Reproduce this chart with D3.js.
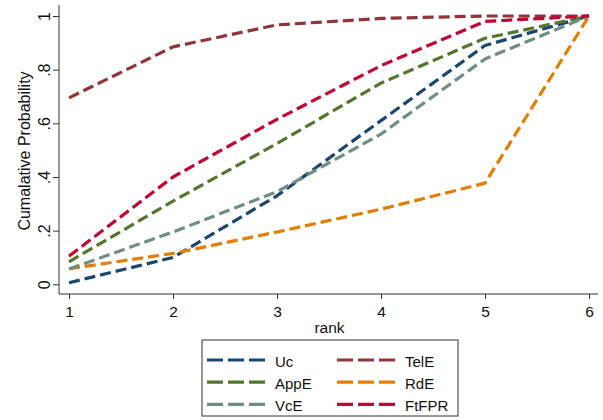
<!DOCTYPE html>
<html>
<head>
<meta charset="utf-8">
<script src="https://cdn.jsdelivr.net/npm/d3@7"></script>
<style>
  body { margin: 0; background: #fff; }
  svg { display: block; font-family: "Liberation Sans", Arial, sans-serif; }
</style>
</head>
<body>
<svg id="chart" width="603" height="420"></svg>
<script>
// data
const ranks = [1, 2, 3, 4, 5, 6];
const yTicks = [0, 0.2, 0.4, 0.6, 0.8, 1];
const yTickLabels = ["0", ".2", ".4", ".6", ".8", "1"];

const Uc    = [0.006, 0.10, 0.33, 0.61, 0.89, 1.0];
const TelE  = [0.695, 0.885, 0.967, 0.991, 1.0, 1.0];
const AppE  = [0.084, 0.31, 0.525, 0.75, 0.917, 1.0];
const RdE   = [0.058, 0.115, 0.195, 0.28, 0.377, 1.0];
const VcE   = [0.057, 0.195, 0.345, 0.56, 0.84, 1.0];
const FtFPR = [0.105, 0.40, 0.615, 0.815, 0.98, 1.0];

const seriesNames = ["Uc", "TelE", "AppE", "RdE", "VcE", "FtFPR"];
const seriesValues = [Uc, TelE, AppE, RdE, VcE, FtFPR];
const seriesColors = ["#1a476f", "#90353b", "#55752f", "#e37e00", "#6e8e84", "#c10534"];

const svg = d3.select("#chart");

// plot region
const plotLeft = 59, plotRight = 598, plotTop = 5, plotBottom = 294;

const x = d3.scaleLinear().domain([1, 6]).range([69, 589]);
const y = d3.scaleLinear().domain([0, 1]).range([284.3, 16]);

// y axis
const yAxis = svg.append("g")
  .attr("transform", `translate(${plotLeft},0)`)
  .call(d3.axisLeft(y).tickValues(yTicks).tickFormat((d, i) => yTickLabels[i]).tickSize(6).tickPadding(0).tickSizeOuter(0));
yAxis.select(".domain").remove();
yAxis.append("line").attr("x1", 0).attr("x2", 0).attr("y1", plotTop).attr("y2", plotBottom).attr("stroke", "#333");
yAxis.selectAll(".tick line").attr("stroke", "#333");
yAxis.selectAll(".tick text")
  .attr("x", null).attr("dy", null)
  .attr("transform", "translate(-9,0) rotate(-90)")
  .attr("text-anchor", "middle")
  .attr("fill", "#111")
  .style("font-size", "16px");

// x axis
const xAxis = svg.append("g")
  .attr("transform", `translate(0,${plotBottom})`)
  .call(d3.axisBottom(x).tickValues(ranks).tickFormat(d3.format("d")).tickSize(5).tickPadding(0).tickSizeOuter(0));
xAxis.select(".domain").remove();
xAxis.append("line").attr("x1", plotLeft).attr("x2", plotRight).attr("y1", 0).attr("y2", 0).attr("stroke", "#333");
xAxis.selectAll(".tick line").attr("stroke", "#333");
xAxis.selectAll(".tick text")
  .attr("y", 23).attr("dy", null)
  .attr("fill", "#111").style("font-size", "15.5px");

// axis titles
svg.append("text")
  .attr("transform", "translate(29.5,151) rotate(-90)")
  .attr("text-anchor", "middle")
  .attr("fill", "#111")
  .style("font-size", "16px")
  .text("Cumalative Probability");

svg.append("text")
  .attr("x", 329.5).attr("y", 333)
  .attr("text-anchor", "middle")
  .attr("fill", "#111")
  .style("font-size", "15.5px")
  .text("rank");

// lines
const line = d3.line().x((d, i) => x(ranks[i])).y(d => y(d));
svg.append("g").selectAll("path")
  .data(seriesValues)
  .join("path")
  .attr("d", line)
  .attr("fill", "none")
  .attr("stroke", (d, i) => seriesColors[i])
  .attr("stroke-width", 3.2)
  .attr("stroke-dasharray", "11,5")
  .attr("stroke-linejoin", "round");

// legend
const legend = svg.append("g");
legend.append("rect")
  .attr("x", 202).attr("y", 340).attr("width", 256).attr("height", 76)
  .attr("fill", "#fff").attr("stroke", "#333").attr("stroke-width", 1);

const legItems = legend.selectAll("g.item")
  .data(seriesNames)
  .join("g")
  .attr("class", "item")
  .attr("transform", (d, i) => `translate(${i % 2 === 0 ? 207 : 337},${360 + Math.floor(i / 2) * 22.2})`);

legItems.append("line")
  .attr("x1", 0).attr("x2", 58).attr("y1", 0).attr("y2", 0)
  .attr("stroke", (d, i) => seriesColors[i])
  .attr("stroke-width", 3.2)
  .attr("stroke-dasharray", "16,5");

legItems.append("text")
  .attr("x", 68).attr("y", 6.5)
  .attr("fill", "#111")
  .style("font-size", "15px")
  .text(d => d);
</script>
</body>
</html>
